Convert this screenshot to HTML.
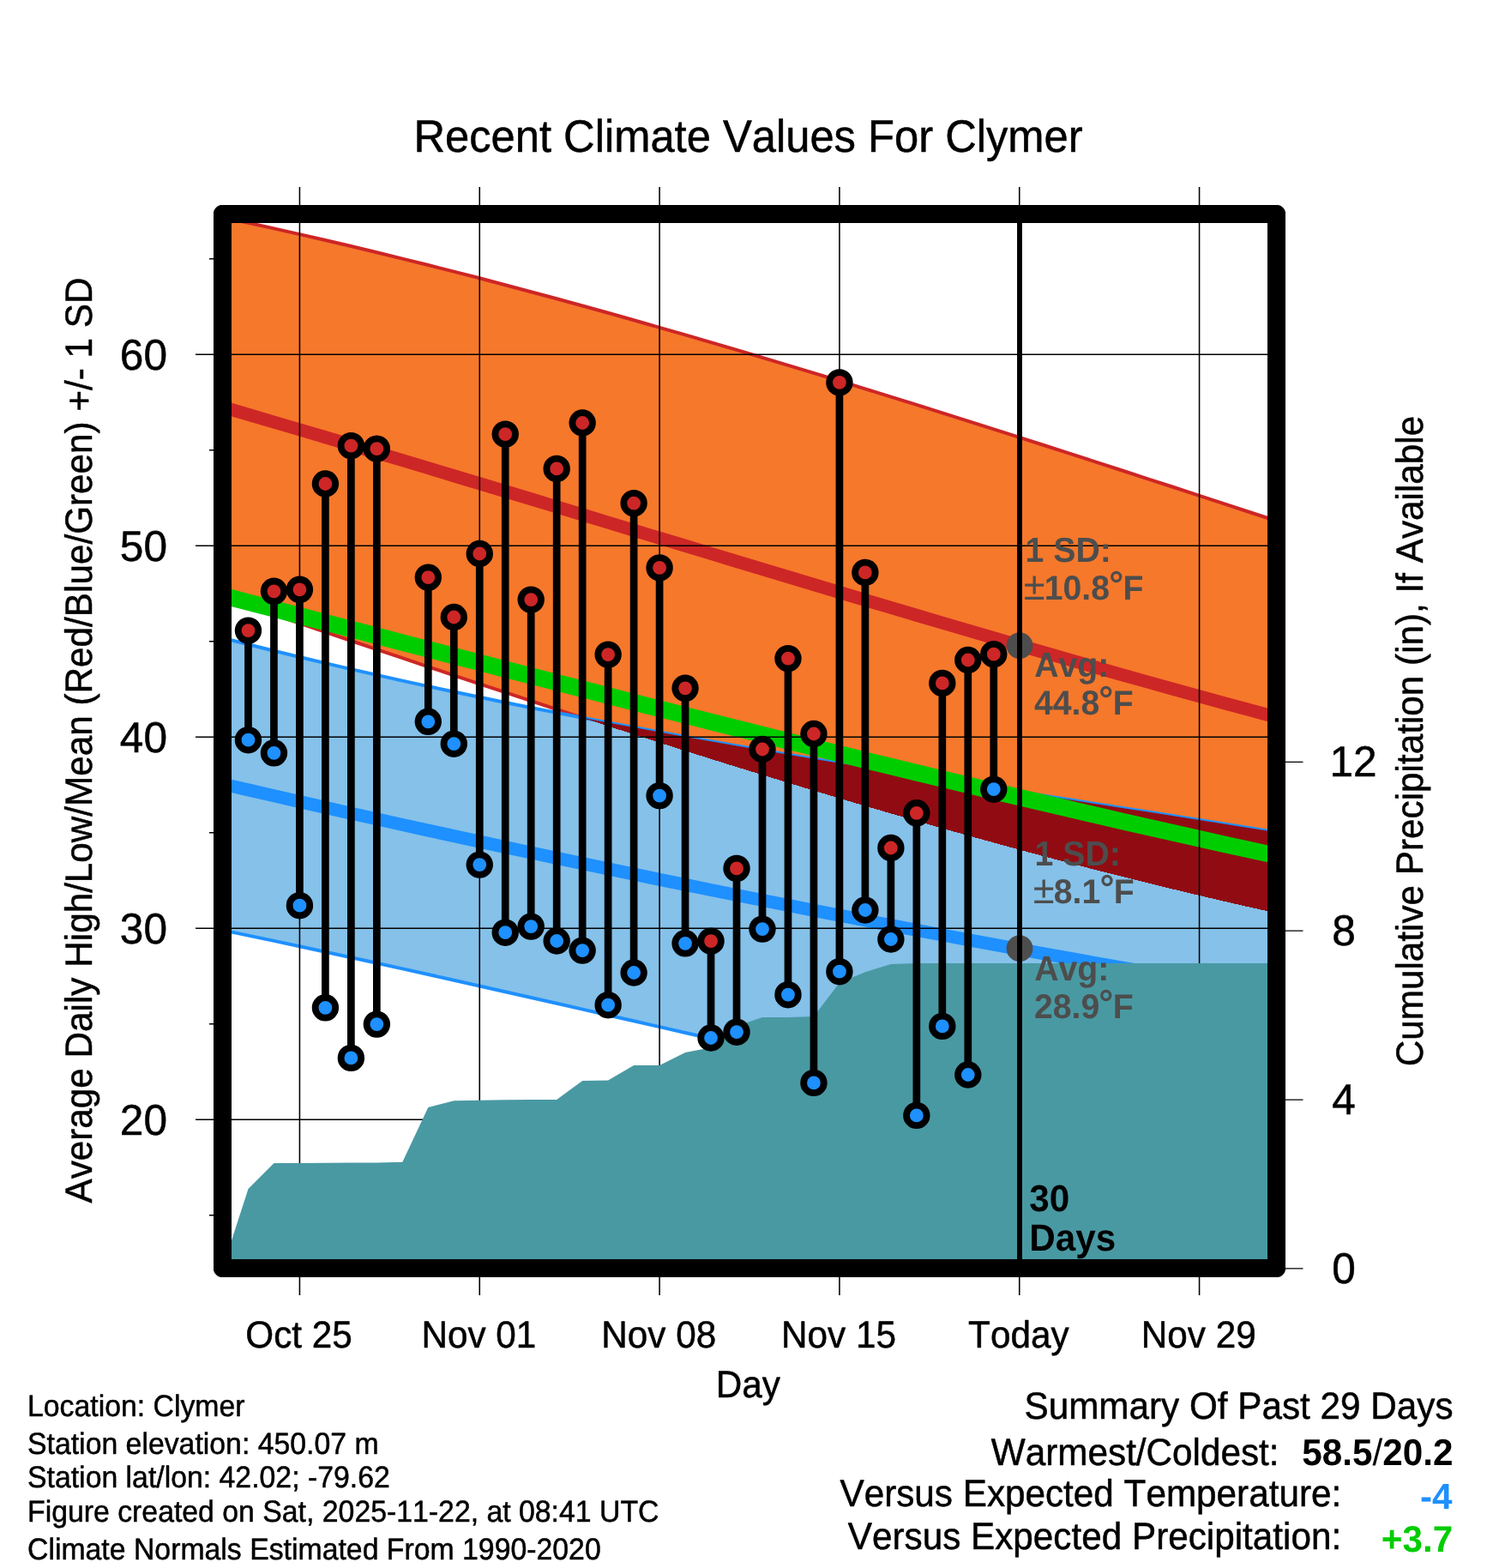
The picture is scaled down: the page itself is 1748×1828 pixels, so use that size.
<!DOCTYPE html>
<html lang="en"><head><meta charset="utf-8"><title>Recent Climate Values For Clymer</title>
<style>html,body{margin:0;padding:0;background:#fff}body{width:1748px;height:1828px;overflow:hidden}svg{display:block}</style>
</head><body>
<svg width="1748" height="1828" viewBox="0 0 1748 1828" font-family="'Liberation Sans', Arial, Helvetica, sans-serif">
<style>text{font-kerning:none;text-rendering:geometricPrecision}</style>
<rect width="1748" height="1828" fill="#fff"/>
<defs><clipPath id="pc"><rect x="259.5" y="249.5" width="1229.0" height="1229.0"/></clipPath>
<clipPath id="bc"><polygon points="259.5,743.6 289.5,751.2 319.5,758.7 349.4,766.0 379.4,773.1 409.4,780.1 439.4,786.9 469.3,793.6 499.3,800.1 529.3,806.5 559.3,812.8 589.2,819.0 619.2,825.0 649.2,830.9 679.2,836.7 709.1,842.4 739.1,848.0 769.1,853.5 799.1,858.9 829.0,864.2 859.0,869.4 889.0,874.6 919.0,879.7 948.9,884.7 978.9,889.7 1008.9,894.6 1038.9,899.5 1068.8,904.3 1098.8,909.1 1128.8,913.8 1158.8,918.6 1188.7,923.3 1218.7,928.0 1248.7,932.6 1278.7,937.3 1308.6,942.0 1338.6,946.6 1368.6,951.3 1398.6,956.0 1428.5,960.7 1458.5,965.4 1488.5,970.2 1488.5,1347.8 1458.5,1342.5 1428.5,1337.1 1398.6,1331.6 1368.6,1325.9 1338.6,1320.2 1308.6,1314.3 1278.7,1308.4 1248.7,1302.3 1218.7,1296.2 1188.7,1290.0 1158.8,1283.7 1128.8,1277.3 1098.8,1270.9 1068.8,1264.4 1038.9,1257.8 1008.9,1251.2 978.9,1244.6 948.9,1237.9 919.0,1231.2 889.0,1224.4 859.0,1217.6 829.0,1210.8 799.1,1204.0 769.1,1197.1 739.1,1190.3 709.1,1183.5 679.2,1176.6 649.2,1169.8 619.2,1163.0 589.2,1156.2 559.3,1149.5 529.3,1142.7 499.3,1136.0 469.3,1129.4 439.4,1122.8 409.4,1116.2 379.4,1109.7 349.4,1103.3 319.5,1096.9 289.5,1090.6 259.5,1084.4"/></clipPath></defs>
<g clip-path="url(#pc)">
<polygon points="259.5,253.4 289.5,259.8 319.5,266.4 349.4,273.1 379.4,280.0 409.4,287.0 439.4,294.2 469.3,301.6 499.3,309.0 529.3,316.6 559.3,324.3 589.2,332.2 619.2,340.2 649.2,348.3 679.2,356.5 709.1,364.8 739.1,373.2 769.1,381.8 799.1,390.4 829.0,399.1 859.0,407.9 889.0,416.8 919.0,425.8 948.9,434.9 978.9,444.0 1008.9,453.3 1038.9,462.6 1068.8,471.9 1098.8,481.3 1128.8,490.8 1158.8,500.3 1188.7,509.9 1218.7,519.5 1248.7,529.1 1278.7,538.8 1308.6,548.5 1338.6,558.3 1368.6,568.0 1398.6,577.8 1428.5,587.7 1458.5,597.5 1488.5,607.3 1488.5,1064.5 1458.5,1057.9 1428.5,1051.0 1398.6,1044.0 1368.6,1036.8 1338.6,1029.5 1308.6,1022.0 1278.7,1014.4 1248.7,1006.6 1218.7,998.7 1188.7,990.6 1158.8,982.4 1128.8,974.1 1098.8,965.7 1068.8,957.1 1038.9,948.4 1008.9,939.6 978.9,930.7 948.9,921.7 919.0,912.6 889.0,903.4 859.0,894.2 829.0,884.8 799.1,875.3 769.1,865.8 739.1,856.2 709.1,846.5 679.2,836.8 649.2,827.0 619.2,817.1 589.2,807.2 559.3,797.3 529.3,787.3 499.3,777.3 469.3,767.2 439.4,757.1 409.4,747.0 379.4,736.8 349.4,726.6 319.5,716.5 289.5,706.3 259.5,696.1" fill="#F6782B"/>
<polyline points="259.5,253.4 289.5,259.8 319.5,266.4 349.4,273.1 379.4,280.0 409.4,287.0 439.4,294.2 469.3,301.6 499.3,309.0 529.3,316.6 559.3,324.3 589.2,332.2 619.2,340.2 649.2,348.3 679.2,356.5 709.1,364.8 739.1,373.2 769.1,381.8 799.1,390.4 829.0,399.1 859.0,407.9 889.0,416.8 919.0,425.8 948.9,434.9 978.9,444.0 1008.9,453.3 1038.9,462.6 1068.8,471.9 1098.8,481.3 1128.8,490.8 1158.8,500.3 1188.7,509.9 1218.7,519.5 1248.7,529.1 1278.7,538.8 1308.6,548.5 1338.6,558.3 1368.6,568.0 1398.6,577.8 1428.5,587.7 1458.5,597.5 1488.5,607.3" fill="none" stroke="#CD2626" stroke-width="4"/>
<polyline points="259.5,696.1 289.5,706.3 319.5,716.5 349.4,726.6 379.4,736.8 409.4,747.0 439.4,757.1 469.3,767.2 499.3,777.3 529.3,787.3 559.3,797.3 589.2,807.2 619.2,817.1 649.2,827.0 679.2,836.8 709.1,846.5 739.1,856.2 769.1,865.8 799.1,875.3 829.0,884.8 859.0,894.2 889.0,903.4 919.0,912.6 948.9,921.7 978.9,930.7 1008.9,939.6 1038.9,948.4 1068.8,957.1 1098.8,965.7 1128.8,974.1 1158.8,982.4 1188.7,990.6 1218.7,998.7 1248.7,1006.6 1278.7,1014.4 1308.6,1022.0 1338.6,1029.5 1368.6,1036.8 1398.6,1044.0 1428.5,1051.0 1458.5,1057.9 1488.5,1064.5" fill="none" stroke="#CD2626" stroke-width="4"/>
<polygon points="259.5,743.6 289.5,751.2 319.5,758.7 349.4,766.0 379.4,773.1 409.4,780.1 439.4,786.9 469.3,793.6 499.3,800.1 529.3,806.5 559.3,812.8 589.2,819.0 619.2,825.0 649.2,830.9 679.2,836.7 709.1,842.4 739.1,848.0 769.1,853.5 799.1,858.9 829.0,864.2 859.0,869.4 889.0,874.6 919.0,879.7 948.9,884.7 978.9,889.7 1008.9,894.6 1038.9,899.5 1068.8,904.3 1098.8,909.1 1128.8,913.8 1158.8,918.6 1188.7,923.3 1218.7,928.0 1248.7,932.6 1278.7,937.3 1308.6,942.0 1338.6,946.6 1368.6,951.3 1398.6,956.0 1428.5,960.7 1458.5,965.4 1488.5,970.2 1488.5,1347.8 1458.5,1342.5 1428.5,1337.1 1398.6,1331.6 1368.6,1325.9 1338.6,1320.2 1308.6,1314.3 1278.7,1308.4 1248.7,1302.3 1218.7,1296.2 1188.7,1290.0 1158.8,1283.7 1128.8,1277.3 1098.8,1270.9 1068.8,1264.4 1038.9,1257.8 1008.9,1251.2 978.9,1244.6 948.9,1237.9 919.0,1231.2 889.0,1224.4 859.0,1217.6 829.0,1210.8 799.1,1204.0 769.1,1197.1 739.1,1190.3 709.1,1183.5 679.2,1176.6 649.2,1169.8 619.2,1163.0 589.2,1156.2 559.3,1149.5 529.3,1142.7 499.3,1136.0 469.3,1129.4 439.4,1122.8 409.4,1116.2 379.4,1109.7 349.4,1103.3 319.5,1096.9 289.5,1090.6 259.5,1084.4" fill="#85C1E9"/>
<polyline points="259.5,743.6 289.5,751.2 319.5,758.7 349.4,766.0 379.4,773.1 409.4,780.1 439.4,786.9 469.3,793.6 499.3,800.1 529.3,806.5 559.3,812.8 589.2,819.0 619.2,825.0 649.2,830.9 679.2,836.7 709.1,842.4 739.1,848.0 769.1,853.5 799.1,858.9 829.0,864.2 859.0,869.4 889.0,874.6 919.0,879.7 948.9,884.7 978.9,889.7 1008.9,894.6 1038.9,899.5 1068.8,904.3 1098.8,909.1 1128.8,913.8 1158.8,918.6 1188.7,923.3 1218.7,928.0 1248.7,932.6 1278.7,937.3 1308.6,942.0 1338.6,946.6 1368.6,951.3 1398.6,956.0 1428.5,960.7 1458.5,965.4 1488.5,970.2" fill="none" stroke="#1E90FF" stroke-width="4"/>
<polyline points="259.5,1084.4 289.5,1090.6 319.5,1096.9 349.4,1103.3 379.4,1109.7 409.4,1116.2 439.4,1122.8 469.3,1129.4 499.3,1136.0 529.3,1142.7 559.3,1149.5 589.2,1156.2 619.2,1163.0 649.2,1169.8 679.2,1176.6 709.1,1183.5 739.1,1190.3 769.1,1197.1 799.1,1204.0 829.0,1210.8 859.0,1217.6 889.0,1224.4 919.0,1231.2 948.9,1237.9 978.9,1244.6 1008.9,1251.2 1038.9,1257.8 1068.8,1264.4 1098.8,1270.9 1128.8,1277.3 1158.8,1283.7 1188.7,1290.0 1218.7,1296.2 1248.7,1302.3 1278.7,1308.4 1308.6,1314.3 1338.6,1320.2 1368.6,1325.9 1398.6,1331.6 1428.5,1337.1 1458.5,1342.5 1488.5,1347.8" fill="none" stroke="#1E90FF" stroke-width="4"/>
<g clip-path="url(#bc)"><polygon points="259.5,253.4 289.5,259.8 319.5,266.4 349.4,273.1 379.4,280.0 409.4,287.0 439.4,294.2 469.3,301.6 499.3,309.0 529.3,316.6 559.3,324.3 589.2,332.2 619.2,340.2 649.2,348.3 679.2,356.5 709.1,364.8 739.1,373.2 769.1,381.8 799.1,390.4 829.0,399.1 859.0,407.9 889.0,416.8 919.0,425.8 948.9,434.9 978.9,444.0 1008.9,453.3 1038.9,462.6 1068.8,471.9 1098.8,481.3 1128.8,490.8 1158.8,500.3 1188.7,509.9 1218.7,519.5 1248.7,529.1 1278.7,538.8 1308.6,548.5 1338.6,558.3 1368.6,568.0 1398.6,577.8 1428.5,587.7 1458.5,597.5 1488.5,607.3 1488.5,1064.5 1458.5,1057.9 1428.5,1051.0 1398.6,1044.0 1368.6,1036.8 1338.6,1029.5 1308.6,1022.0 1278.7,1014.4 1248.7,1006.6 1218.7,998.7 1188.7,990.6 1158.8,982.4 1128.8,974.1 1098.8,965.7 1068.8,957.1 1038.9,948.4 1008.9,939.6 978.9,930.7 948.9,921.7 919.0,912.6 889.0,903.4 859.0,894.2 829.0,884.8 799.1,875.3 769.1,865.8 739.1,856.2 709.1,846.5 679.2,836.8 649.2,827.0 619.2,817.1 589.2,807.2 559.3,797.3 529.3,787.3 499.3,777.3 469.3,767.2 439.4,757.1 409.4,747.0 379.4,736.8 349.4,726.6 319.5,716.5 289.5,706.3 259.5,696.1" fill="#910C12" shape-rendering="crispEdges"/></g>
<polyline points="259.5,474.5 289.5,483.3 319.5,492.1 349.4,500.9 379.4,509.8 409.4,518.7 439.4,527.7 469.3,536.6 499.3,545.6 529.3,554.7 559.3,563.7 589.2,572.8 619.2,581.8 649.2,590.9 679.2,600.0 709.1,609.1 739.1,618.2 769.1,627.3 799.1,636.3 829.0,645.4 859.0,654.5 889.0,663.5 919.0,672.5 948.9,681.5 978.9,690.5 1008.9,699.5 1038.9,708.4 1068.8,717.3 1098.8,726.1 1128.8,734.9 1158.8,743.7 1188.7,752.4 1218.7,761.0 1248.7,769.6 1278.7,778.2 1308.6,786.7 1338.6,795.1 1368.6,803.5 1398.6,811.8 1428.5,820.0 1458.5,828.1 1488.5,836.2" fill="none" stroke="#CD2626" stroke-width="15"/>
<polyline points="259.5,914.0 289.5,920.9 319.5,927.8 349.4,934.6 379.4,941.4 409.4,948.2 439.4,954.8 469.3,961.5 499.3,968.1 529.3,974.6 559.3,981.1 589.2,987.6 619.2,994.0 649.2,1000.4 679.2,1006.7 709.1,1012.9 739.1,1019.1 769.1,1025.3 799.1,1031.4 829.0,1037.5 859.0,1043.5 889.0,1049.5 919.0,1055.4 948.9,1061.3 978.9,1067.1 1008.9,1072.9 1038.9,1078.7 1068.8,1084.3 1098.8,1090.0 1128.8,1095.6 1158.8,1101.1 1188.7,1106.6 1218.7,1112.1 1248.7,1117.5 1278.7,1122.8 1308.6,1128.1 1338.6,1133.4 1368.6,1138.6 1398.6,1143.8 1428.5,1148.9 1458.5,1154.0 1488.5,1159.0" fill="none" stroke="#1E90FF" stroke-width="15"/>
<polyline points="259.5,694.3 289.5,702.1 319.5,709.9 349.4,717.8 379.4,725.6 409.4,733.4 439.4,741.3 469.3,749.1 499.3,756.9 529.3,764.7 559.3,772.4 589.2,780.2 619.2,787.9 649.2,795.6 679.2,803.3 709.1,811.0 739.1,818.7 769.1,826.3 799.1,833.9 829.0,841.5 859.0,849.0 889.0,856.5 919.0,864.0 948.9,871.4 978.9,878.8 1008.9,886.2 1038.9,893.5 1068.8,900.8 1098.8,908.0 1128.8,915.2 1158.8,922.4 1188.7,929.5 1218.7,936.6 1248.7,943.6 1278.7,950.5 1308.6,957.4 1338.6,964.3 1368.6,971.0 1398.6,977.8 1428.5,984.4 1458.5,991.0 1488.5,997.6" fill="none" stroke="#00CD00" stroke-width="19.5"/>
</g>
<path d="M349.43 218V1510 M559.26 218V1510 M769.09 218V1510 M978.91 218V1510 M1188.74 218V1510 M1398.57 218V1510 M228 413.20H1488.5 M228 636.20H1488.5 M228 859.20H1488.5 M228 1082.20H1488.5 M228 1305.20H1488.5" stroke="#000" stroke-width="1.55" fill="none"/>
<path d="M244 301.70H259.5 M244 524.70H259.5 M244 747.70H259.5 M244 970.70H259.5 M244 1193.70H259.5 M244 1416.70H259.5" stroke="#000" stroke-width="1.55" fill="none"/>
<path d="M1488.5 1478.80H1519.5 M1488.5 1282.00H1519.5 M1488.5 1085.20H1519.5 M1488.5 888.40H1519.5" stroke="#000" stroke-width="1.25" fill="none"/>
<g clip-path="url(#pc)">
<polygon points="259.5,1478.5 289.5,1385.9 319.5,1355.9 349.4,1355.9 379.4,1355.7 409.4,1355.6 439.4,1355.4 469.3,1354.7 499.3,1291.0 529.3,1283.2 559.3,1282.7 589.2,1282.3 619.2,1282.0 649.2,1281.9 679.2,1260.0 709.1,1259.6 739.1,1242.0 769.1,1242.0 799.1,1226.9 829.0,1221.3 859.0,1196.2 889.0,1186.1 919.0,1186.1 948.9,1185.0 978.9,1145.8 1008.9,1133.2 1038.9,1123.9 1068.8,1123.0 1098.8,1123.0 1128.8,1123.0 1158.8,1123.0 1188.7,1123.0 1218.7,1123.0 1248.7,1123.0 1278.7,1123.0 1308.6,1123.0 1338.6,1123.0 1368.6,1123.0 1398.6,1123.0 1428.5,1123.0 1458.5,1123.0 1488.5,1123.0 1488.5,1478.5 259.5,1478.5" fill="#4999A3"/>
<path d="M289.48 735.1V862.7 M319.45 689.3V877.8 M349.43 687.3V1055.7 M379.40 564.0V1174.8 M409.38 519.7V1233.4 M439.35 523.2V1194.1 M499.30 673.2V841.3 M529.28 719.5V867.2 M559.26 645.5V1008.1 M589.23 506.1V1087.2 M619.21 699.1V1080.1 M649.18 546.4V1097.0 M679.16 493.0V1108.1 M709.13 763.1V1171.7 M739.11 586.6V1134.0 M769.09 661.9V927.6 M799.06 802.3V1099.8 M829.04 1097.2V1210.0 M859.01 1012.4V1203.2 M888.99 873.5V1083.1 M918.96 767.6V1159.7 M948.94 855.5V1262.4 M978.91 445.9V1132.7 M1008.89 667.4V1061.0 M1038.87 988.5V1095.0 M1068.84 947.8V1300.4 M1098.82 796.4V1196.4 M1128.79 769.5V1253.0 M1158.77 762.7V920.2" stroke="#000" stroke-width="8.7" fill="none"/>
<circle cx="289.48" cy="862.7" r="11.8" fill="#1E90FF" stroke="#000" stroke-width="7.8"/>
<circle cx="319.45" cy="877.8" r="11.8" fill="#1E90FF" stroke="#000" stroke-width="7.8"/>
<circle cx="349.43" cy="1055.7" r="11.8" fill="#1E90FF" stroke="#000" stroke-width="7.8"/>
<circle cx="379.40" cy="1174.8" r="11.8" fill="#1E90FF" stroke="#000" stroke-width="7.8"/>
<circle cx="409.38" cy="1233.4" r="11.8" fill="#1E90FF" stroke="#000" stroke-width="7.8"/>
<circle cx="439.35" cy="1194.1" r="11.8" fill="#1E90FF" stroke="#000" stroke-width="7.8"/>
<circle cx="499.30" cy="841.3" r="11.8" fill="#1E90FF" stroke="#000" stroke-width="7.8"/>
<circle cx="529.28" cy="867.2" r="11.8" fill="#1E90FF" stroke="#000" stroke-width="7.8"/>
<circle cx="559.26" cy="1008.1" r="11.8" fill="#1E90FF" stroke="#000" stroke-width="7.8"/>
<circle cx="589.23" cy="1087.2" r="11.8" fill="#1E90FF" stroke="#000" stroke-width="7.8"/>
<circle cx="619.21" cy="1080.1" r="11.8" fill="#1E90FF" stroke="#000" stroke-width="7.8"/>
<circle cx="649.18" cy="1097.0" r="11.8" fill="#1E90FF" stroke="#000" stroke-width="7.8"/>
<circle cx="679.16" cy="1108.1" r="11.8" fill="#1E90FF" stroke="#000" stroke-width="7.8"/>
<circle cx="709.13" cy="1171.7" r="11.8" fill="#1E90FF" stroke="#000" stroke-width="7.8"/>
<circle cx="739.11" cy="1134.0" r="11.8" fill="#1E90FF" stroke="#000" stroke-width="7.8"/>
<circle cx="769.09" cy="927.6" r="11.8" fill="#1E90FF" stroke="#000" stroke-width="7.8"/>
<circle cx="799.06" cy="1099.8" r="11.8" fill="#1E90FF" stroke="#000" stroke-width="7.8"/>
<circle cx="829.04" cy="1210.0" r="11.8" fill="#1E90FF" stroke="#000" stroke-width="7.8"/>
<circle cx="859.01" cy="1203.2" r="11.8" fill="#1E90FF" stroke="#000" stroke-width="7.8"/>
<circle cx="888.99" cy="1083.1" r="11.8" fill="#1E90FF" stroke="#000" stroke-width="7.8"/>
<circle cx="918.96" cy="1159.7" r="11.8" fill="#1E90FF" stroke="#000" stroke-width="7.8"/>
<circle cx="948.94" cy="1262.4" r="11.8" fill="#1E90FF" stroke="#000" stroke-width="7.8"/>
<circle cx="978.91" cy="1132.7" r="11.8" fill="#1E90FF" stroke="#000" stroke-width="7.8"/>
<circle cx="1008.89" cy="1061.0" r="11.8" fill="#1E90FF" stroke="#000" stroke-width="7.8"/>
<circle cx="1038.87" cy="1095.0" r="11.8" fill="#1E90FF" stroke="#000" stroke-width="7.8"/>
<circle cx="1068.84" cy="1300.4" r="11.8" fill="#1E90FF" stroke="#000" stroke-width="7.8"/>
<circle cx="1098.82" cy="1196.4" r="11.8" fill="#1E90FF" stroke="#000" stroke-width="7.8"/>
<circle cx="1128.79" cy="1253.0" r="11.8" fill="#1E90FF" stroke="#000" stroke-width="7.8"/>
<circle cx="1158.77" cy="920.2" r="11.8" fill="#1E90FF" stroke="#000" stroke-width="7.8"/>
<circle cx="289.48" cy="735.1" r="11.8" fill="#CD2626" stroke="#000" stroke-width="7.8"/>
<circle cx="319.45" cy="689.3" r="11.8" fill="#CD2626" stroke="#000" stroke-width="7.8"/>
<circle cx="349.43" cy="687.3" r="11.8" fill="#CD2626" stroke="#000" stroke-width="7.8"/>
<circle cx="379.40" cy="564.0" r="11.8" fill="#CD2626" stroke="#000" stroke-width="7.8"/>
<circle cx="409.38" cy="519.7" r="11.8" fill="#CD2626" stroke="#000" stroke-width="7.8"/>
<circle cx="439.35" cy="523.2" r="11.8" fill="#CD2626" stroke="#000" stroke-width="7.8"/>
<circle cx="499.30" cy="673.2" r="11.8" fill="#CD2626" stroke="#000" stroke-width="7.8"/>
<circle cx="529.28" cy="719.5" r="11.8" fill="#CD2626" stroke="#000" stroke-width="7.8"/>
<circle cx="559.26" cy="645.5" r="11.8" fill="#CD2626" stroke="#000" stroke-width="7.8"/>
<circle cx="589.23" cy="506.1" r="11.8" fill="#CD2626" stroke="#000" stroke-width="7.8"/>
<circle cx="619.21" cy="699.1" r="11.8" fill="#CD2626" stroke="#000" stroke-width="7.8"/>
<circle cx="649.18" cy="546.4" r="11.8" fill="#CD2626" stroke="#000" stroke-width="7.8"/>
<circle cx="679.16" cy="493.0" r="11.8" fill="#CD2626" stroke="#000" stroke-width="7.8"/>
<circle cx="709.13" cy="763.1" r="11.8" fill="#CD2626" stroke="#000" stroke-width="7.8"/>
<circle cx="739.11" cy="586.6" r="11.8" fill="#CD2626" stroke="#000" stroke-width="7.8"/>
<circle cx="769.09" cy="661.9" r="11.8" fill="#CD2626" stroke="#000" stroke-width="7.8"/>
<circle cx="799.06" cy="802.3" r="11.8" fill="#CD2626" stroke="#000" stroke-width="7.8"/>
<circle cx="829.04" cy="1097.2" r="11.8" fill="#CD2626" stroke="#000" stroke-width="7.8"/>
<circle cx="859.01" cy="1012.4" r="11.8" fill="#CD2626" stroke="#000" stroke-width="7.8"/>
<circle cx="888.99" cy="873.5" r="11.8" fill="#CD2626" stroke="#000" stroke-width="7.8"/>
<circle cx="918.96" cy="767.6" r="11.8" fill="#CD2626" stroke="#000" stroke-width="7.8"/>
<circle cx="948.94" cy="855.5" r="11.8" fill="#CD2626" stroke="#000" stroke-width="7.8"/>
<circle cx="978.91" cy="445.9" r="11.8" fill="#CD2626" stroke="#000" stroke-width="7.8"/>
<circle cx="1008.89" cy="667.4" r="11.8" fill="#CD2626" stroke="#000" stroke-width="7.8"/>
<circle cx="1038.87" cy="988.5" r="11.8" fill="#CD2626" stroke="#000" stroke-width="7.8"/>
<circle cx="1068.84" cy="947.8" r="11.8" fill="#CD2626" stroke="#000" stroke-width="7.8"/>
<circle cx="1098.82" cy="796.4" r="11.8" fill="#CD2626" stroke="#000" stroke-width="7.8"/>
<circle cx="1128.79" cy="769.5" r="11.8" fill="#CD2626" stroke="#000" stroke-width="7.8"/>
<circle cx="1158.77" cy="762.7" r="11.8" fill="#CD2626" stroke="#000" stroke-width="7.8"/>
<circle cx="1188.99" cy="752.6" r="15.4" fill="#4D4D4D"/>
<circle cx="1188.99" cy="1105.7" r="15.4" fill="#4D4D4D"/>
<path d="M1188.99 249.5V1478.5" stroke="#000" stroke-width="5.9"/>
</g>
<text transform="translate(1195.6 655.3) scale(1 1.035)" font-size="39.2" font-weight="bold" fill="#4D4D4D">1 SD:</text>
<text transform="translate(1193.7 698.8) scale(1 1.02)" font-size="39.2" font-weight="bold" fill="#4D4D4D"><tspan font-weight="normal" font-size="45.3">±</tspan><tspan dx="-0.85">10.8</tspan><tspan font-size="42.5" dx="-0.8" dy="-2.6">°</tspan><tspan dx="-0.7" dy="2.6">F</tspan></text>
<text transform="translate(1206.2 788.9) scale(1 1.04)" font-size="39.2" font-weight="bold" fill="#4D4D4D">Avg:</text>
<text transform="translate(1205.9 832.8) scale(1 1.02)" font-size="39.2" font-weight="bold" fill="#4D4D4D">44.8<tspan font-size="42.5" dx="-0.8" dy="-2.6">°</tspan><tspan dx="-0.7" dy="2.6">F</tspan></text>
<text transform="translate(1206.6 1009) scale(1 1.035)" font-size="39.2" font-weight="bold" fill="#4D4D4D">1 SD:</text>
<text transform="translate(1204.7 1052.9) scale(1 1.02)" font-size="39.2" font-weight="bold" fill="#4D4D4D"><tspan font-weight="normal" font-size="45.3">±</tspan><tspan dx="-0.85">8.1</tspan><tspan font-size="42.5" dx="-0.8" dy="-2.6">°</tspan><tspan dx="-0.7" dy="2.6">F</tspan></text>
<text transform="translate(1206.2 1142.8) scale(1 1.04)" font-size="39.2" font-weight="bold" fill="#4D4D4D">Avg:</text>
<text transform="translate(1205.9 1186.6) scale(1 1.02)" font-size="39.2" font-weight="bold" fill="#4D4D4D">28.9<tspan font-size="42.5" dx="-0.8" dy="-2.6">°</tspan><tspan dx="-0.7" dy="2.6">F</tspan></text>
<text transform="translate(1200.2 1411.6) scale(1 1.03)" font-size="42.25" font-weight="bold">30</text>
<text transform="translate(1200.2 1458.3) scale(1 1.045)" font-size="42.25" font-weight="bold">Days</text>
<path d="M249.0 247.2 L250.1 244.3 L251.9 241.9 L254.3 240.1 L257.2 239.0 L1490.8 239.0 L1493.7 240.1 L1496.1 241.9 L1497.9 244.3 L1499.0 247.2 L1499.0 1480.8 L1497.9 1483.7 L1496.1 1486.1 L1493.7 1487.9 L1490.8 1489.0 L257.2 1489.0 L254.3 1487.9 L251.9 1486.1 L250.1 1483.7 L249.0 1480.8Z M270.0 260.0V1468.0H1478.0V260.0Z" fill="#000" fill-rule="evenodd"/>
<text transform="translate(872.5 177) scale(1 1.045)" font-size="50.7" text-anchor="middle" stroke="#000" stroke-width="0.5" stroke-linejoin="round">Recent Climate Values For Clymer</text>
<text transform="translate(348.5 1571.2) scale(1 1.045)" font-size="42.25" text-anchor="middle" stroke="#000" stroke-width="0.5" stroke-linejoin="round">Oct 25</text>
<text transform="translate(558.4 1571.2) scale(1 1.045)" font-size="42.25" text-anchor="middle" stroke="#000" stroke-width="0.5" stroke-linejoin="round">Nov 01</text>
<text transform="translate(768.2 1571.2) scale(1 1.045)" font-size="42.25" text-anchor="middle" stroke="#000" stroke-width="0.5" stroke-linejoin="round">Nov 08</text>
<text transform="translate(978.0 1571.2) scale(1 1.045)" font-size="42.25" text-anchor="middle" stroke="#000" stroke-width="0.5" stroke-linejoin="round">Nov 15</text>
<text transform="translate(1187.8 1571.2) scale(1 1.045)" font-size="42.25" text-anchor="middle" stroke="#000" stroke-width="0.5" stroke-linejoin="round">Today</text>
<text transform="translate(1397.7 1571.2) scale(1 1.045)" font-size="42.25" text-anchor="middle" stroke="#000" stroke-width="0.5" stroke-linejoin="round">Nov 29</text>
<text transform="translate(872.2 1629) scale(1 1.045)" font-size="42.25" text-anchor="middle" stroke="#000" stroke-width="0.5" stroke-linejoin="round">Day</text>
<text transform="translate(195 431.1) scale(1 1.015)" font-size="49.6" text-anchor="end" stroke="#000" stroke-width="0.5" stroke-linejoin="round">60</text>
<text transform="translate(195 654.1) scale(1 1.015)" font-size="49.6" text-anchor="end" stroke="#000" stroke-width="0.5" stroke-linejoin="round">50</text>
<text transform="translate(195 877.1) scale(1 1.015)" font-size="49.6" text-anchor="end" stroke="#000" stroke-width="0.5" stroke-linejoin="round">40</text>
<text transform="translate(195 1100.1) scale(1 1.015)" font-size="49.6" text-anchor="end" stroke="#000" stroke-width="0.5" stroke-linejoin="round">30</text>
<text transform="translate(195 1323.1) scale(1 1.015)" font-size="49.6" text-anchor="end" stroke="#000" stroke-width="0.5" stroke-linejoin="round">20</text>
<text transform="translate(1553.3 1495.7) scale(1 1.015)" font-size="49.6" stroke="#000" stroke-width="0.5" stroke-linejoin="round">0</text>
<text transform="translate(1553.3 1298.9) scale(1 1.015)" font-size="49.6" stroke="#000" stroke-width="0.5" stroke-linejoin="round">4</text>
<text transform="translate(1553.3 1102.1) scale(1 1.015)" font-size="49.6" stroke="#000" stroke-width="0.5" stroke-linejoin="round">8</text>
<text transform="translate(1550.4 905.3) scale(1 1.015)" font-size="49.6" stroke="#000" stroke-width="0.5" stroke-linejoin="round">12</text>
<text transform="translate(106.6 863) rotate(-90) scale(1 1.045)" font-size="42.25" text-anchor="middle" stroke="#000" stroke-width="0.5" stroke-linejoin="round">Average Daily High/Low/Mean (Red/Blue/Green) +/- 1 SD</text>
<text transform="translate(1659.1 864.0) rotate(-90) scale(1 1.045)" font-size="42.25" text-anchor="middle" stroke="#000" stroke-width="0.5" stroke-linejoin="round">Cumulative Precipitation (in), If Available</text>
<text transform="translate(32 1651) scale(1 1.045)" font-size="33.8" stroke="#000" stroke-width="0.5" stroke-linejoin="round">Location: Clymer</text>
<text transform="translate(32 1695) scale(1 1.045)" font-size="33.8" stroke="#000" stroke-width="0.5" stroke-linejoin="round">Station elevation: 450.07 m</text>
<text transform="translate(32 1734) scale(1 1.045)" font-size="33.8" stroke="#000" stroke-width="0.5" stroke-linejoin="round">Station lat/lon: 42.02; -79.62</text>
<text transform="translate(32 1774) scale(1 1.045)" font-size="33.8" stroke="#000" stroke-width="0.5" stroke-linejoin="round">Figure created on Sat, 2025-11-22, at 08:41 UTC</text>
<text transform="translate(32 1818) scale(1 1.045)" font-size="33.8" stroke="#000" stroke-width="0.5" stroke-linejoin="round">Climate Normals Estimated From 1990-2020</text>
<text transform="translate(1694.6 1653.6) scale(1 1.045)" font-size="42.25" text-anchor="end" stroke="#000" stroke-width="0.5" stroke-linejoin="round">Summary Of Past 29 Days</text>
<text transform="translate(1491.6 1708) scale(1 1.045)" font-size="42.25" text-anchor="end" stroke="#000" stroke-width="0.5" stroke-linejoin="round">Warmest/Coldest:</text>
<text transform="translate(1694.4 1708) scale(1 1.025)" font-size="42.25" text-anchor="end" font-weight="bold">58.5<tspan font-weight="normal">/</tspan>20.2</text>
<text transform="translate(1564.2 1755.5) scale(1 1.045)" font-size="42.25" text-anchor="end" stroke="#000" stroke-width="0.5" stroke-linejoin="round">Versus Expected Temperature:</text>
<text transform="translate(1693.5 1759.4) scale(1 1.0)" font-size="42.25" text-anchor="end" font-weight="bold" fill="#1E90FF">-4</text>
<text transform="translate(1564.2 1806) scale(1 1.045)" font-size="42.25" text-anchor="end" stroke="#000" stroke-width="0.5" stroke-linejoin="round">Versus Expected Precipitation:</text>
<text transform="translate(1694.2 1808.8) scale(1 1.02)" font-size="42.25" text-anchor="end" font-weight="bold" fill="#00CD00">+3.7</text>
</svg>
</body></html>
